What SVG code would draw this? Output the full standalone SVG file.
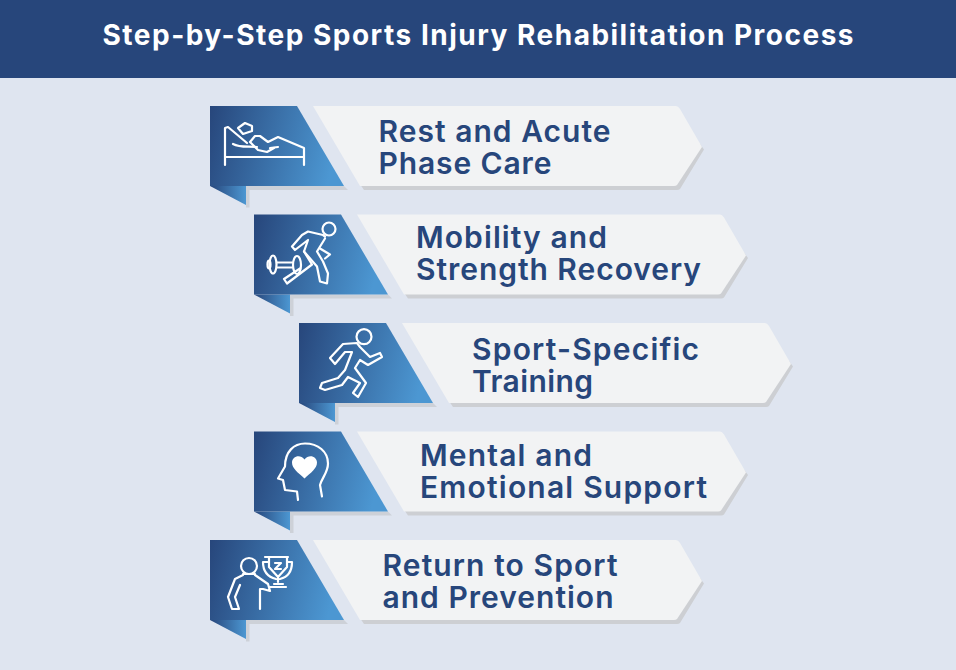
<svg xmlns="http://www.w3.org/2000/svg" width="956" height="670" viewBox="0 0 956 670">
<style>
text{font-family:"Inter","Noto Sans","Liberation Sans",sans-serif;}
.t{font-size:30px;font-weight:600;fill:#27467b;}
.title{font-size:28px;font-weight:700;fill:#fff;}
.i{fill:none;stroke:#fff;stroke-width:2.200;stroke-linejoin:round;stroke-linecap:round;}
</style>
<defs>
<linearGradient id="g" x1="0" y1="0" x2="1" y2="0.15"><stop offset="0" stop-color="#27467b"/><stop offset="1" stop-color="#4c97d2"/></linearGradient>
<linearGradient id="f" x1="0" y1="0" x2="1" y2="0"><stop offset="0" stop-color="#27467b"/><stop offset="1" stop-color="#4c97d2"/></linearGradient>
<g id="card">
<path d="M150 78H466L490 38L494 43.500L470 83Q469 84 467 84H154Z" fill="#cdcfd3"/>
<path d="M103 0H466Q468 0 470 3L492 41L467 79Q466 80 464 80H150Z" fill="#f2f3f4"/>
<path d="M36 80H134L138 84H39.500V101.500H36Z" fill="#cdd1d8"/>
<path d="M0 80L36 99V80Z" fill="url(#f)"/>
<path d="M0 0H87L134 80H0Z" fill="url(#g)"/>
</g>
</defs>
<rect width="956" height="670" fill="#dfe5f0"/>
<g id="header"><rect width="956" height="78" fill="#27467b"/><text class="title" x="478" y="45" text-anchor="middle" textLength="751" lengthAdjust="spacing">Step-by-Step Sports Injury Rehabilitation Process</text></g>
<g id="connectors"></g>
<g id="node1" transform="translate(210,106)"><use href="#card"/>
<g class="i"><path d="M15 59V22L18 21L37 37"/><path d="M15 51H94M94 59V42L68 31L58 36L50 30H45L40 36L48 44L57 46L64 42"/><path d="M23 38C30 42 38 40 47 41"/><path d="M28 22L35 17L42 20L42 25L33 28Z"/><path d="M60 42L68 41"/></g>
<text class="t" x="168.500" y="36" textLength="232" lengthAdjust="spacing">Rest and Acute</text><text class="t" x="168.500" y="68" textLength="173" lengthAdjust="spacing">Phase Care</text></g>
<g id="node2" transform="translate(254,214.500)"><use href="#card"/>
<g class="i"><circle cx="75" cy="14.500" r="6.500"/><path d="M71 22L69 20.500L54 17L48 20.500L38 32L41 35.500L54 25.500L50 37L63 52L66 67L73 69L74 59L69 47L63 37L71 24"/><path d="M66 34L76 40L71 44"/><path d="M50 37L58 50L33 69L30 64.500L46 54"/><ellipse cx="19" cy="50" rx="3.500" ry="9"/><ellipse cx="15" cy="50" rx="1.500" ry="4"/><path d="M23 48H38M23 53H38"/><ellipse cx="43" cy="50.500" rx="4" ry="9"/></g>
<text class="t" x="162" y="33" textLength="191" lengthAdjust="spacing">Mobility and</text><text class="t" x="162" y="65" textLength="285" lengthAdjust="spacing">Strength Recovery</text></g>
<g id="node3" transform="translate(299,323)"><use href="#card"/>
<g class="i"><circle cx="65" cy="13.700" r="7.500"/><path d="M58 20L44 21L31 35L36 41L46 29L53 29L46 47L39 55L23 60L21 65L26 67L43 62L49 54L61 60L54 70L59 74L67 60L56 45L61 37L69 42L83 34L81 30L71 34L61 24Z"/></g>
<text class="t" x="173" y="37" textLength="227" lengthAdjust="spacing">Sport-Specific</text><text class="t" x="173" y="69" textLength="121" lengthAdjust="spacing">Training</text></g>
<g id="node4" transform="translate(254,431.500)"><use href="#card"/>
<g class="i"><path d="M44 68.500L43 60L31 58.500L29 48.500L24 47L31 35C31 20 40 12 51 12C64 12 74 20 74 32C74 41 68 46 66 53.500L68 65"/></g>
<path d="M50.500 47C44 41 38 37 38 31C38 25 46 22 50.500 28C55 22 63 25 63 31C63 37 57 41 50.500 47Z" fill="#fff"/>
<text class="t" x="166" y="34" textLength="172" lengthAdjust="spacing">Mental and</text><text class="t" x="166" y="66" textLength="287" lengthAdjust="spacing">Emotional Support</text></g>
<g id="node5" transform="translate(210,540)"><use href="#card"/>
<g class="i"><circle cx="39" cy="26" r="8"/><path d="M33 35L25 39L18 57L22 69H29L25 57L30 45M45 35L58 44L60 51L53 49L50 49V69M33 34H45"/><path d="M55 17H78M59 18V27L68 37L77 27V18M68 37V42M64 44H73M60 47H76M58 22H53C53 32 58 37 66 39M78 22H82C82 32 78 37 70 39"/><path d="M65 23H71L65 29H71"/></g>
<text class="t" x="172.500" y="36" textLength="235" lengthAdjust="spacing">Return to Sport</text><text class="t" x="172.500" y="68" textLength="231" lengthAdjust="spacing">and Prevention</text></g>
</svg>
